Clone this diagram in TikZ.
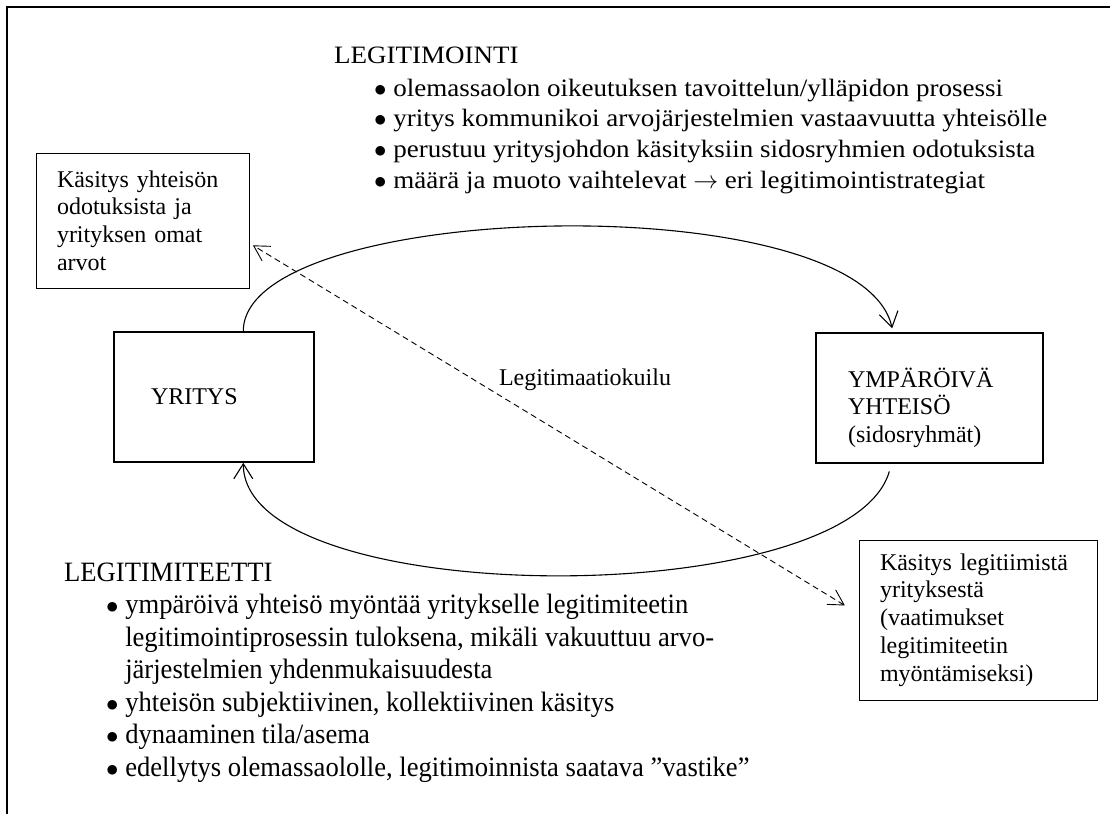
\documentclass[tikz,border=0pt]{standalone}
\usepackage{fontspec}
\setmainfont{Liberation Serif}
\newfontfamily\widefont[FakeStretch=1.08]{Liberation Serif}
\newfontfamily\tallfont[FakeStretch=0.95]{Liberation Serif}
\usetikzlibrary{arrows.meta}

\begin{document}
\begin{tikzpicture}[x=1pt, y=-1pt,
		% Node styles
		party/.style={draw, line width=1.6pt, inner ysep=0pt, align=left,
				font=\fontsize{24}{27.5}\selectfont},
		note/.style={draw, line width=1pt, inner ysep=0pt, inner xsep=21pt, align=left,
				font=\fontsize{24}{27.8}\selectfont},
		toplist/.style={anchor=base west, inner sep=0pt, font=\widefont\fontsize{25}{30.7}\selectfont},
		bottomlist/.style={anchor=base west, inner sep=0pt, font=\tallfont\fontsize{28}{32.5}\selectfont},
		gaplabel/.style={font=\fontsize{24}{27.5}\selectfont},
		% Connector styles
		cyclearrow/.style={-{Straight Barb[length=15pt, width=19pt]}, line width=1.1pt},
		gaparrow/.style={{Straight Barb[length=15pt, width=17pt]}-{Straight Barb[length=15pt, width=17pt]},
				line width=0.9pt, dash pattern=on 6pt off 4pt},
	]

	\useasboundingbox (0,0) rectangle (1110,814);

	% Frame
	\draw[line width=1.6pt] (7,814) -- (7,7) -- (1110,7);

	% Company and community
	\node[party, minimum width=200pt, minimum height=130pt, text width=126pt, inner xsep=37pt]
		(yritys) at (214,397) {YRITYS};
	\node[party, minimum width=227pt, minimum height=130pt, text width=163pt, inner xsep=32pt]
		(yhteiso) at (929.5,398) {\rule{0pt}{39pt}YMPÄRÖIVÄ\\YHTEISÖ\\(sidosryhmät)};

	% Perceptions
	\node[note, minimum width=213pt, minimum height=135pt, text width=171pt]
		(kasitys_yhteiso) at (142.5,220.5) {Käsitys yhteisön\\odotuksista ja\\yrityksen omat\\arvot};
	\node[note, minimum width=238pt, minimum height=160pt, text width=196pt]
		(kasitys_legit) at (978,620) {Käsitys legitiimistä\\yrityksestä\\(vaatimukset\\legitimiteetin\\myöntämiseksi)};

	% Legitimation
	\node[toplist] (legitimointi) at (334,63) {\begin{tabular}[t]{@{\hspace{40pt}}l@{\ }l@{}}
			\multicolumn{2}{@{}l@{}}{LEGITIMOINTI}\\[2.3pt]
			$\bullet$ & olemassaolon oikeutuksen tavoittelun/ylläpidon prosessi\\
			$\bullet$ & yritys kommunikoi arvojärjestelmien vastaavuutta yhteisölle\\
			$\bullet$ & perustuu yritysjohdon käsityksiin sidosryhmien odotuksista\\
			$\bullet$ & määrä ja muoto vaihtelevat $\rightarrow$ eri legitimointistrategiat
		\end{tabular}};

	% Legitimacy
	\node[bottomlist] (legitimiteetti) at (64,581) {\begin{tabular}[t]{@{\hspace{42pt}}l@{\ }l@{}}
			\multicolumn{2}{@{}l@{}}{LEGITIMITEETTI}\\
			$\bullet$ & ympäröivä yhteisö myöntää yritykselle legitimiteetin\\
			          & legitimointiprosessin tuloksena, mikäli vakuuttuu arvo-\\
			          & järjestelmien yhdenmukaisuudesta\\
			$\bullet$ & yhteisön subjektiivinen, kollektiivinen käsitys\\
			$\bullet$ & dynaaminen tila/asema\\
			$\bullet$ & edellytys olemassaololle, legitimoinnista saatava ”vastike”
		\end{tabular}};

	% Gap label
	\node[gaplabel] (kuilu) at (585,380) {Legitimaatiokuilu};

	% Connections
	\draw[cyclearrow, shorten >=4pt] (yritys.66) .. controls +(0,-132) and +(-33,-148) .. (yhteiso.119.3);
	\draw[cyclearrow, shorten <=8pt] (yhteiso.240.7) .. controls +(-43,149) and +(0,148) .. (yritys.294);
	\draw[gaparrow, shorten <=16pt, shorten >=4pt] (kasitys_legit.177.8) -- (kasitys_yhteiso.-12.75);

\end{tikzpicture}
\end{document}
